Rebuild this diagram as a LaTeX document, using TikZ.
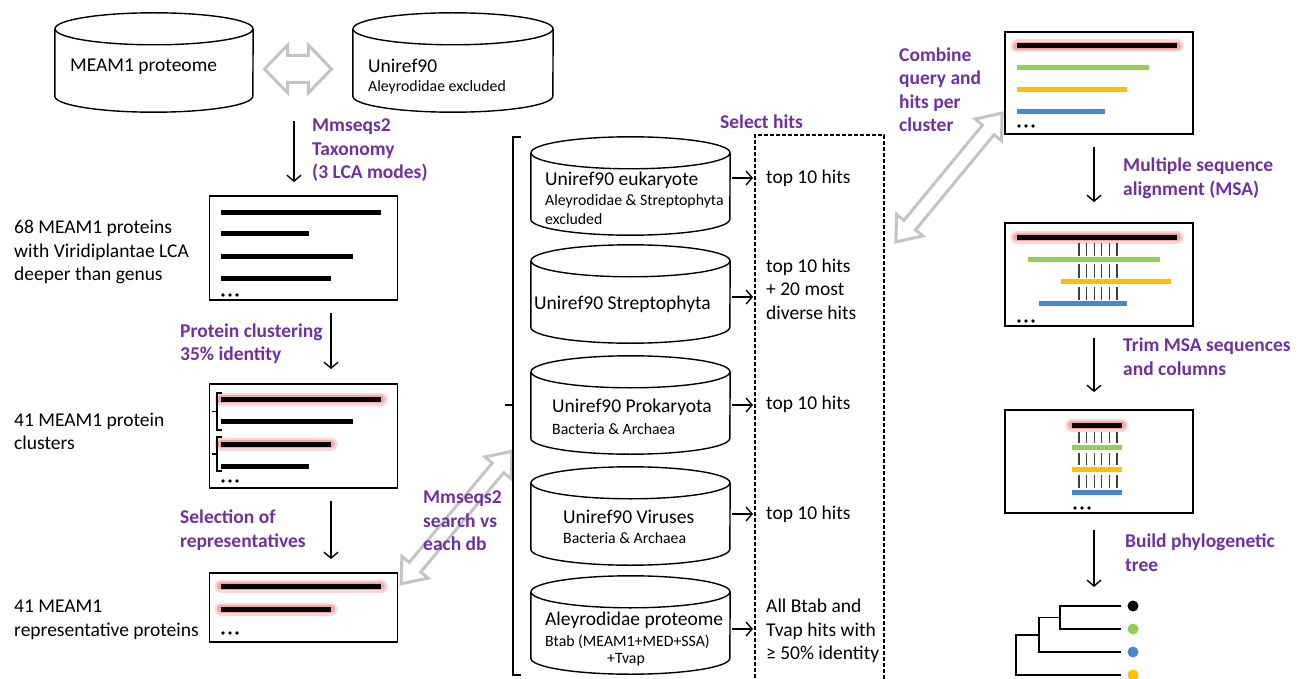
\documentclass[tikz,border=0pt]{standalone}
\usepackage{fontspec}
\setmainfont{Carlito}
\usetikzlibrary{arrows.meta,positioning,calc,shapes.arrows}
\definecolor{stagepurple}{HTML}{7030A0}
\definecolor{hitgreen}{HTML}{92D050}
\definecolor{hitgold}{HTML}{FFC000}
\definecolor{hitblue}{HTML}{4A86D8}
\definecolor{glowpink}{HTML}{F4A7A7}
\definecolor{hollowgray}{HTML}{C4C4C4}

% cylinder outline round an invisible node #1, half width #2
\newcommand{\drum}[2]{%
  \draw[drumline] ([yshift=-16pt]#1.north west) -- ([yshift=16pt]#1.south west)
    arc[start angle=180,end angle=360,x radius=#2pt,y radius=16pt]
    -- ([yshift=-16pt]#1.north east);
  \draw[drumline] ([yshift=-16pt]#1.north) ellipse[x radius=#2pt,y radius=16pt];}

\begin{document}
\begin{tikzpicture}[x=1pt,y=-1pt,>={Straight Barb[length=6pt,width=14pt]},
  body/.style={font=\fontsize{19.5}{23.5}\selectfont,inner sep=0pt,align=left,anchor=west},
  note/.style={font=\fontsize{15.8}{19.5}\selectfont,inner sep=0pt,align=left,anchor=west},
  stage/.style={body,font=\fontsize{19.5}{23.5}\selectfont\bfseries,text=stagepurple},
  db/.style={minimum width=199pt,minimum height=98pt,inner sep=0pt},
  drumline/.style={line width=1.4pt},
  panel/.style={draw,line width=1.8pt,minimum width=188pt,inner sep=0pt},
  flow/.style={->,line width=1.4pt},
  bar/.style={line width=5pt},
  halo/.style={line width=8pt,glowpink,line cap=round},
  haze/.style={line width=13pt,glowpink!45,line cap=round},
  cols/.style={line width=1.2pt,black!75},
  hollow/.style={double arrow,draw=hollowgray,line width=3pt,fill=white,inner xsep=0pt},
  leaf/.style={circle,fill,inner sep=0pt,minimum size=11pt}]
\useasboundingbox (0,0) rectangle (1303,679);

% source databases
\node[db,minimum width=198pt,minimum height=99pt] (meam) at (154,62.5) {};
\node[db,minimum width=200pt,minimum height=99pt] (uref) at (453,62.5) {};
\drum{meam}{99}
\drum{uref}{100}
\node[body] (meamtxt) at (70,67) {MEAM1 proteome};
\node[body] (ureftxt) at (368,66) {Uniref90};
\node[note] (urefnote) at (368,87) {Aleyrodidae excluded};
\node[hollow,minimum height=67pt,inner ysep=12pt,double arrow head extend=10.5pt,
  double arrow tip angle=92] (swap) at (298,69) {};

% MEAM1 protein lists
\node[panel,minimum height=104pt] (list1) at (303.5,248) {};
\node[panel,minimum height=104pt] (list2) at (303.5,436) {};
\node[panel,minimum height=69pt] (list3) at (303.5,607.5) {};
\foreach \y/\e in {212/381,233/309,256/353,278/331} {\draw[bar] (221,\y) -- (\e,\y);}
\foreach \y/\e in {399/381,444/331} {\draw[haze] (221,\y) -- (\e,\y); \draw[halo] (221,\y) -- (\e,\y);}
\foreach \y/\e in {399/381,421/353,444/331,466/309} {\draw[bar] (221,\y) -- (\e,\y);}
\foreach \y/\e in {586/381,609/331} {\draw[haze] (221,\y) -- (\e,\y); \draw[halo] (221,\y) -- (\e,\y);
  \draw[bar] (221,\y) -- (\e,\y);}
\foreach \y in {295,481,633} {\foreach \d in {0,7,14} {\fill (223+\d,\y) circle (1.9pt);}}
% cluster brackets
\foreach \a/\b in {393/430,437/471} {
  \draw[line width=1.3pt] (222,\a) -- (217,\a) -- (217,\b) -- (222,\b);
  \draw[line width=1.3pt] (217,{(\a+\b)/2}) -- (212,{(\a+\b)/2});}

\node[body] (prot68) at (14,252) {68 MEAM1 proteins\\with Viridiplantae LCA\\deeper than genus};
\node[body] (clust41) at (14,431.5) {41 MEAM1 protein\\clusters};
\node[body] (rep41) at (14,620) {41 MEAM1\\representative proteins};

\coordinate (taxtop) at (294,121);
\draw[flow] (taxtop) -- ($(taxtop |- list1.north)+(0,-13)$);
\draw[flow] ([xshift=27.5pt,yshift=-12pt]list1.south) -- ([xshift=27.5pt,yshift=14pt]list2.north);
\draw[flow] ([xshift=27.5pt,yshift=-12pt]list2.south) -- ([xshift=27.5pt,yshift=13pt]list3.north);
\node[stage] (taxlbl) at (312,150.5) {Mmseqs2\\Taxonomy\\(3 LCA modes)};
\node[stage] (clustlbl) at (180,343.5) {Protein clustering\\35\% identity};
\node[stage] (replbl) at (180,530) {Selection of\\representatives};

% search databases
\node[hollow,rotate=50.1,minimum height=173pt,inner ysep=6pt,double arrow head extend=9.5pt,
  double arrow tip angle=76] (query) at (456.5,517.5) {};
\node[stage] (searchlbl) at (423,521) {Mmseqs2\\search vs\\each db};
\draw[line width=1.6pt] (521,137) -- (513,137) -- (513,675) -- (521,675);
\draw[line width=1.6pt] (513,405) -- (505,405);

\node[db] (euk) at (630.5,186) {};
\node[db] (strep) at (630.5,294) {};
\node[db] (prok) at (630.5,405) {};
\node[db] (vir) at (630.5,516) {};
\node[db] (aley) at (630.5,625) {};
\foreach \c in {euk,strep,prok,vir,aley} {\drum{\c}{99.5}}
\node[body] (euktxt) at (545,180) {Uniref90 eukaryote};
\node[note] (euknote) at (545,209.5) {Aleyrodidae \& Streptophyta\\excluded};
\node[body] (streptxt) at (534,304) {Uniref90 Streptophyta};
\node[body] (proktxt) at (552,407) {Uniref90 Prokaryota};
\node[note] (proknote) at (552,429) {Bacteria \& Archaea};
\node[body] (virtxt) at (563,517) {Uniref90 Viruses};
\node[note] (virnote) at (563,538) {Bacteria \& Archaea};
\node[body] (aleytxt) at (545,620) {Aleyrodidae proteome};
\node[note] (aleynote) at (545,642) {Btab (MEAM1+MED+SSA)};
\node[note,anchor=center] (tvap) at (626,660) {+Tvap};

% hit selection
\coordinate (hits) at (755,135);
\draw[line width=1.5pt,dash pattern=on 4pt off 2pt] (755,690) -- (hits) -- (884,135) -- (884,690);
\foreach \c/\dy in {euk/-8,strep/3,prok/0,vir/-2,aley/4}
  {\draw[flow] ($(\c.east)+(2,\dy)$) -- ($(\c.east -| hits)+(-2,\dy)$);}
\node[stage] (sellbl) at (720,122) {Select hits};
\node[body] (hit1) at (766,178) {top 10 hits};
\node[body] (hit2) at (766,289) {top 10 hits\\+ 20 most\\diverse hits};
\node[body] (hit3) at (766,404) {top 10 hits};
\node[body] (hit4) at (766,514) {top 10 hits};
\node[body] (hit5) at (766,631) {All Btab and\\Tvap hits with\\≥ 50\% identity};

% alignment and tree
\node[hollow,rotate=50.5,minimum height=167pt,inner ysep=6pt,double arrow head extend=9.5pt,
  double arrow tip angle=76] (merge) at (949,177.5) {};
\node[stage] (mergelbl) at (899,89.5) {Combine\\query and\\hits per\\cluster};
\node[panel,minimum height=102pt] (msa0) at (1099,83) {};
\node[panel,minimum height=103pt] (msa1) at (1099,274.5) {};
\node[panel,minimum height=103pt] (msa2) at (1099,461.5) {};
\foreach \y in {46,237} {\draw[haze] (1017,\y) -- (1177,\y); \draw[halo] (1017,\y) -- (1177,\y);
  \draw[bar] (1017,\y) -- (1177,\y);}
\draw[bar,hitgreen] (1017,68) -- (1149,68);
\draw[bar,hitgold] (1017,90) -- (1127,90);
\draw[bar,hitblue] (1017,112) -- (1105,112);
\foreach \x in {1079,1086.6,1094.2,1101.8,1109.4,1117} {
  \foreach \a/\b in {243/256,264/278,287/300,431/443,453/465,475/488} {\draw[cols] (\x,\a) -- (\x,\b);}}
\draw[bar,hitgreen] (1028,259) -- (1160,259);
\draw[bar,hitgold] (1061,281) -- (1171,281);
\draw[bar,hitblue] (1039,303) -- (1127,303);
\draw[haze] (1072,425) -- (1122,425); \draw[halo] (1072,425) -- (1122,425);
\draw[bar] (1072,425) -- (1122,425);
\draw[bar,hitgreen] (1072,447) -- (1122,447);
\draw[bar,hitgold] (1072,469) -- (1122,469);
\draw[bar,hitblue] (1072,492) -- (1122,492);
\foreach \x/\y in {1019/126,1019/321,1075/508} {\foreach \d in {0,7,14} {\fill (\x+\d,\y) circle (1.9pt);}}

\node[leaf,fill=black] (l1) at (1133,606) {};
\node[leaf,fill=hitgreen] (l2) at (1133,629) {};
\node[leaf,fill=hitblue] (l3) at (1133,652) {};
\node[leaf,fill=hitgold] (l4) at (1133,675) {};
\draw[line width=1.4pt] ([xshift=-6pt]l1.west) -- (1060,606) -- (1060,629) -- ([xshift=-6pt]l2.west);
\draw[line width=1.4pt] (1060,617.5) -- (1039,617.5) -- (1039,652) -- ([xshift=-6pt]l3.west);
\draw[line width=1.4pt] (1039,635) -- (1016,635) -- (1016,675) -- ([xshift=-6pt]l4.west);

\draw[flow] ([xshift=-5pt,yshift=-12pt]msa0.south) -- ([xshift=-5pt,yshift=20pt]msa1.north);
\draw[flow] ([xshift=-5pt,yshift=-11pt]msa1.south) -- ([xshift=-5pt,yshift=17pt]msa2.north);
\draw[flow] ([xshift=-5pt,yshift=-16pt]msa2.south) -- ($(l1 -| msa2.south)+(-5,-19)$);
\node[stage] (msalbl) at (1123,178.5) {Multiple sequence\\alignment (MSA)};
\node[stage] (trimlbl) at (1123,356.5) {Trim MSA sequences\\and columns};
\node[stage] (treelbl) at (1125,552.5) {Build phylogenetic\\tree};
\end{tikzpicture}
\end{document}
